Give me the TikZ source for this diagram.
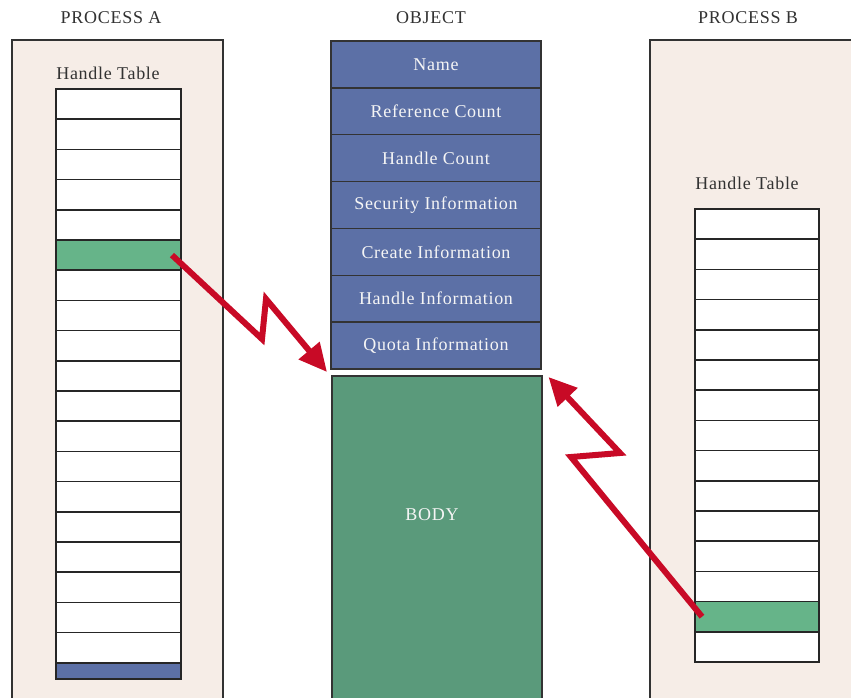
\documentclass[tikz,border=0pt]{standalone}
\usepackage{fontspec}
\setmainfont{Liberation Serif}[LetterSpace=4]
\usetikzlibrary{arrows.meta,calc}

\definecolor{panelbg}{RGB}{246,237,231}
\definecolor{objblue}{RGB}{92,112,166}
\definecolor{bodygreen}{RGB}{90,154,123}
\definecolor{rowgreen}{RGB}{102,180,137}
\definecolor{boltred}{RGB}{200,10,38}
\definecolor{inkgray}{RGB}{50,50,50}

\tikzset{
  panel/.style={draw=inkgray, line width=1.4pt, fill=panelbg},
  title/.style={text=inkgray, font=\fontsize{18}{21}\selectfont, inner sep=0pt},
  cell/.style={draw=black!85, line width=1.5pt, fill=white, anchor=north west,
    minimum width=125pt, minimum height=30.2pt, inner sep=0pt, outer sep=0pt},
  hdr/.style={draw=black!80, line width=1.5pt, fill=objblue, anchor=north west,
    minimum width=210pt, minimum height=46.86pt, inner sep=0pt, outer sep=0pt,
    text=white!92!gray, font=\fontsize{18}{21}\selectfont},
  bolt/.style={draw=boltred, line width=6pt, line join=miter,
    -{Triangle[length=28pt,width=26pt]}},
}

\begin{document}
\begin{tikzpicture}[x=1pt,y=-1pt]
\clip (0,0) rectangle (851,698);
\fill[white] (0,0) rectangle (851,698);

% column headings
\node[title] (tA) at (111,18) {PROCESS A};
\node[title] (tO) at (431,18) {OBJECT};
\node[title] (tB) at (748,18) {PROCESS B};

% process panels
\draw[panel] (12,40) rectangle (223,720);
\draw[panel] (650,40) rectangle (870,720);

% handle table of process A
\node[title] (htA) at (108,73) {Handle Table};
\foreach \i in {0,...,18} {
  \ifnum\i=5
    \node[cell, fill=rowgreen] (a\i) at (56,{89+30.2*\i}) {};
  \else
    \node[cell] (a\i) at (56,{89+30.2*\i}) {};
  \fi
}
\node[cell, fill=objblue, minimum height=16pt] (a19) at (56,662.8) {};

% handle table of process B
\node[title] (htB) at (747,183) {Handle Table};
\foreach \i in {0,...,14} {
  \ifnum\i=13
    \node[cell, fill=rowgreen, minimum width=124pt] (b\i) at (695,{209+30.2*\i}) {};
  \else
    \node[cell, minimum width=124pt] (b\i) at (695,{209+30.2*\i}) {};
  \fi
}

% object header
\node[hdr] (h1) at (331,41) {Name};
\node[hdr] (h2) at (h1.south west) {Reference Count};
\node[hdr] (h3) at (h2.south west) {Handle Count};
\node[hdr] (h4) at (h3.south west) {Security Information};
\node[hdr] (h5) at (h4.south west) {Create Information};
\node[hdr] (h6) at (h5.south west) {Handle Information};
\node[hdr] (h7) at (h6.south west) {Quota Information};

% object body
\node[draw=black!80, line width=1.5pt, fill=bodygreen, anchor=north west,
  minimum width=210pt, minimum height=340pt, inner sep=0pt] (body) at (331,375) {};
\node[text=white!92!gray, font=\fontsize{18}{21}\selectfont] (bodytxt) at (432,515) {BODY};

% handle references
\coordinate (ka1) at (262,339);
\coordinate (ka2) at (266,299);
\coordinate (tipA) at ($(h7.south west)+(-4,3)$);
\draw[bolt] ([xshift=-9pt]a5.east) -- (ka1) -- (ka2) -- (tipA);

\coordinate (kb1) at (571,457);
\coordinate (kb2) at (620,453);
\coordinate (tipB) at ($(body.north east)+(6,2)$);
\draw[bolt] ([xshift=7pt]b13.west) -- (kb1) -- (kb2) -- (tipB);
\end{tikzpicture}
\end{document}
